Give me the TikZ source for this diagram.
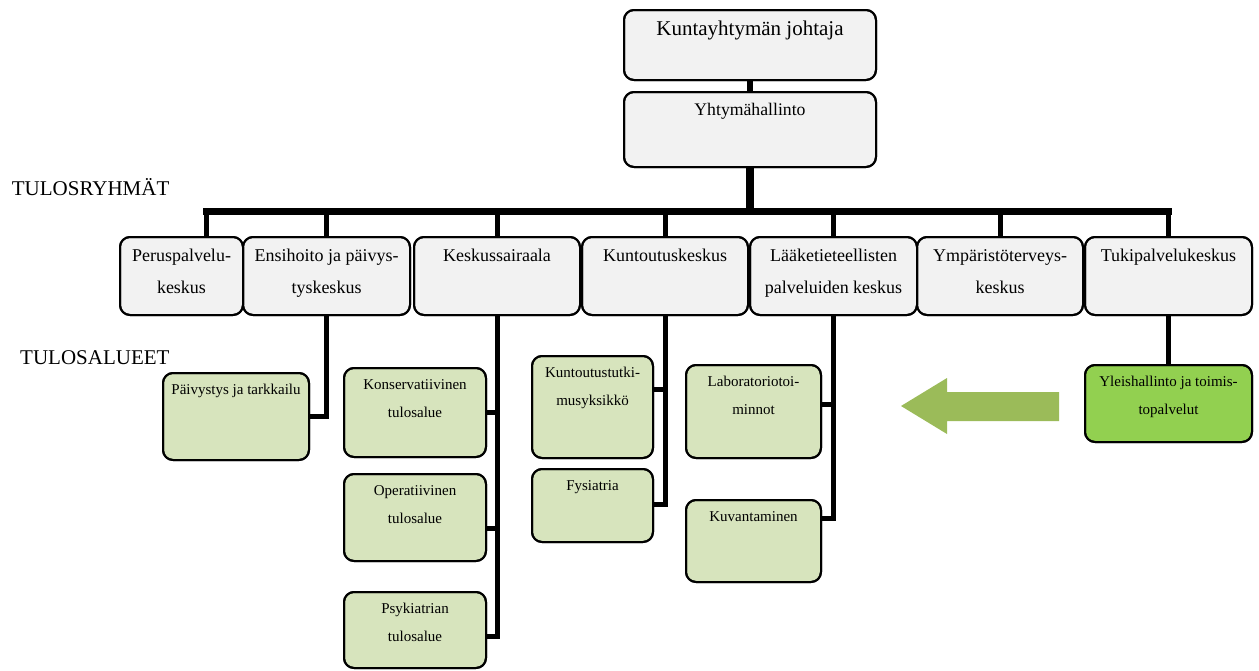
\documentclass[tikz,border=0pt]{standalone}
\usepackage{fontspec}
\setmainfont{Liberation Serif}
\usetikzlibrary{calc}
\definecolor{boxgray}{HTML}{F2F2F2}
\definecolor{boxgreen}{HTML}{D7E4BD}
\definecolor{brightgreen}{HTML}{92D050}
\definecolor{arrowgreen}{HTML}{9BBB59}
\begin{document}
\begin{tikzpicture}[x=1pt,y=-1pt,
  box/.style={draw=black, line width=2pt, rounded corners=10pt, outer sep=0pt, inner sep=0pt, anchor=north west},
  graybox/.style={box, fill=boxgray},
  greenbox/.style={box, fill=boxgreen},
  brightbox/.style={box, fill=brightgreen},
  conn/.style={draw=black, line width=5pt, line join=miter},
  busline/.style={draw=black, line width=7pt, line cap=rect},
  txtbig/.style={anchor=north, inner sep=0pt, align=center, font=\fontsize{21}{25}\selectfont},
  txtmid/.style={anchor=north, inner sep=0pt, align=center, font=\fontsize{18}{32}\selectfont},
  txtyht/.style={anchor=north, inner sep=0pt, align=center, font=\fontsize{17.7}{30}\selectfont},
  txtsm/.style={anchor=north, inner sep=0pt, align=center, font=\fontsize{15}{28}\selectfont},
  heading/.style={anchor=base west, inner sep=0pt, font=\fontsize{21}{25}\selectfont}
]
\useasboundingbox (0,0) rectangle (1259,670);

% boxes
\node[graybox, minimum width=252pt, minimum height=70pt] (joh) at (624,10) {};
\node[graybox, minimum width=252pt, minimum height=75pt] (yht) at (624,92) {};
\node[graybox, minimum width=123pt, minimum height=78pt] (per) at (120,237) {};
\node[graybox, minimum width=167pt, minimum height=78pt] (ens) at (243,237) {};
\node[graybox, minimum width=166pt, minimum height=78pt] (kes) at (414,237) {};
\node[graybox, minimum width=166pt, minimum height=78pt] (kun) at (582,237) {};
\node[graybox, minimum width=167pt, minimum height=78pt] (laa) at (750,237) {};
\node[graybox, minimum width=166pt, minimum height=78pt] (ymp) at (917,237) {};
\node[graybox, minimum width=167pt, minimum height=78pt] (tuk) at (1085,237) {};

\node[greenbox, minimum width=146pt, minimum height=87pt] (pai) at (163,373) {};
\node[greenbox, minimum width=142pt, minimum height=89pt] (kon) at (344,368) {};
\node[greenbox, minimum width=142pt, minimum height=87pt] (ope) at (344,474) {};
\node[greenbox, minimum width=142pt, minimum height=76pt] (psy) at (344,592) {};
\node[greenbox, minimum width=121pt, minimum height=102pt] (kut) at (532,356) {};
\node[greenbox, minimum width=121pt, minimum height=73pt] (fys) at (532,469) {};
\node[greenbox, minimum width=135pt, minimum height=93pt] (lab) at (686,365) {};
\node[greenbox, minimum width=135pt, minimum height=82pt] (kuv) at (686,500) {};
\node[brightbox, minimum width=167pt, minimum height=77pt] (yle) at (1085,365) {};

% connectors top
\draw[draw=black, line width=6pt] (joh.south) -- (yht.north);
\coordinate (bl) at (206,211.5);
\coordinate (br) at (1168.5,211.5);
\coordinate (perd) at (206,237);
\draw[draw=black, line width=8pt] (yht.south) -- (yht.south |- bl);
\draw[busline] (bl) -- (br);
\draw[conn] (perd) -- (bl);
\draw[conn] (tuk.north) -- (br);
\foreach \n in {ens,kes,kun,laa,ymp} \draw[conn] (\n.north) -- (\n.north |- bl);

% connectors below
\draw[conn] (ens.south) -- (ens.south |- pai.east) -- (pai.east);
\draw[conn] (kes.south) -- (kes.south |- {$(psy.east)+(0,6)$}) -- ($(psy.east)+(0,6)$);
\draw[conn] (kes.south |- kon.east) -- (kon.east);
\draw[conn] (kes.south |- {$(ope.east)+(0,10.5)$}) -- ($(ope.east)+(0,10.5)$);
\draw[conn] (kun.south) -- (kun.south |- {$(fys.east)+(0,-1.5)$}) -- ($(fys.east)+(0,-1.5)$);
\draw[conn] (kun.south |- {$(kut.east)+(0,-18)$}) -- ($(kut.east)+(0,-18)$);
\draw[conn] (laa.south) -- (laa.south |- {$(kuv.east)+(0,-23)$}) -- ($(kuv.east)+(0,-23)$);
\draw[conn] (laa.south |- {$(lab.east)+(0,-7.5)$}) -- ($(lab.east)+(0,-7.5)$);
\draw[conn] (tuk.south) -- (yle.north);

% redraw box outlines on top
\foreach \n in {per,ens,kes,kun,laa,ymp,tuk,pai,kon,ope,psy,kut,fys,lab,kuv,yle,yht,joh}
  \draw[line width=2pt, rounded corners=10pt] (\n.north west) rectangle (\n.south east);

% big arrow
\fill[arrowgreen] (1059,392) -- (947,392) -- (947,378) -- (901,406) -- (947,434) -- (947,421) -- (1059,421) -- cycle;

% headings
\node[heading] (h1) at (11.7,195) {TULOSRYHMÄT};
\node[heading] (h2) at (20,364) {TULOSALUEET};

% texts
\node[txtbig] (joh-t) at ($(joh.north)+(0,9.5)$) {\rule{0pt}{15.75pt}Kuntayhtymän johtaja};
\node[txtyht] (yht-t) at ($(yht.north)+(0,10)$) {\rule{0pt}{13.3pt}Yhtymähallinto};
\node[txtmid] (per-t) at ($(per.north)+(0,10.9)$) {\rule{0pt}{13.5pt}Peruspalvelu-\\keskus};
\node[txtmid] (ens-t) at ($(ens.north)+(0,10.9)$) {\rule{0pt}{13.5pt}Ensihoito ja päivys-\\tyskeskus};
\node[txtmid] (kes-t) at ($(kes.north)+(0,10.9)$) {\rule{0pt}{13.5pt}Keskussairaala};
\node[txtmid] (kun-t) at ($(kun.north)+(0,10.9)$) {\rule{0pt}{13.5pt}Kuntoutuskeskus};
\node[txtmid] (laa-t) at ($(laa.north)+(0,10.9)$) {\rule{0pt}{13.5pt}Lääketieteellisten\\palveluiden keskus};
\node[txtmid] (ymp-t) at ($(ymp.north)+(0,10.9)$) {\rule{0pt}{13.5pt}Ympäristöterveys-\\keskus};
\node[txtmid] (tuk-t) at ($(tuk.north)+(0,10.9)$) {\rule{0pt}{13.5pt}Tukipalvelukeskus};

\node[txtsm] (pai-t) at ($(pai.north)+(0,9.75)$) {\rule{0pt}{11.25pt}Päivystys ja tarkkailu};
\node[txtsm] (kon-t) at ($(kon.north)+(0,9.75)$) {\rule{0pt}{11.25pt}Konservatiivinen\\tulosalue};
\node[txtsm] (ope-t) at ($(ope.north)+(0,9.75)$) {\rule{0pt}{11.25pt}Operatiivinen\\tulosalue};
\node[txtsm] (psy-t) at ($(psy.north)+(0,9.75)$) {\rule{0pt}{11.25pt}Psykiatrian\\tulosalue};
\node[txtsm] (kut-t) at ($(kut.north)+(0,9.75)$) {\rule{0pt}{11.25pt}Kuntoutustutki-\\musyksikkö};
\node[txtsm] (fys-t) at ($(fys.north)+(0,9.75)$) {\rule{0pt}{11.25pt}Fysiatria};
\node[txtsm] (lab-t) at ($(lab.north)+(0,9.75)$) {\rule{0pt}{11.25pt}Laboratoriotoi-\\minnot};
\node[txtsm] (kuv-t) at ($(kuv.north)+(0,9.75)$) {\rule{0pt}{11.25pt}Kuvantaminen};
\node[txtsm] (yle-t) at ($(yle.north)+(0,9.75)$) {\rule{0pt}{11.25pt}Yleishallinto ja toimis-\\topalvelut};
\end{tikzpicture}
\end{document}
